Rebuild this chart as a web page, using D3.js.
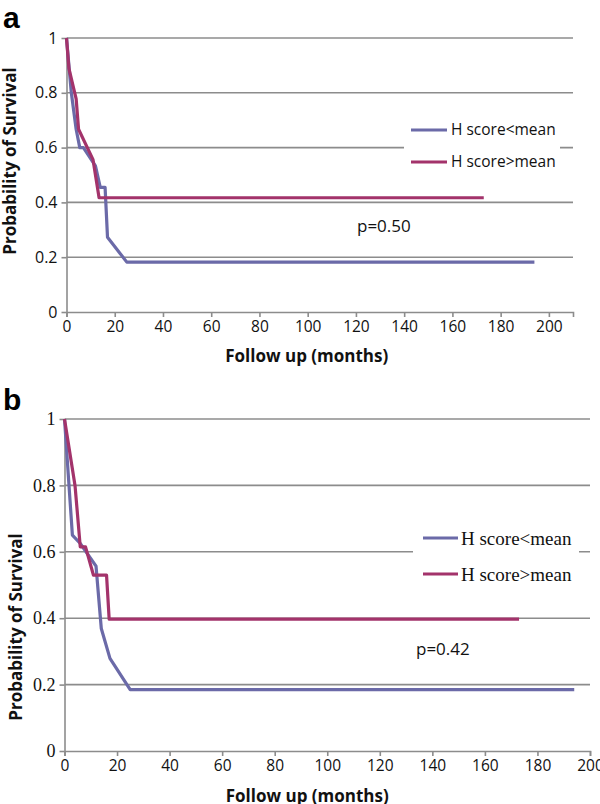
<!DOCTYPE html>
<html>
<head>
<meta charset="utf-8">
<script src="https://cdn.jsdelivr.net/npm/d3@7"></script>
<style>
  body { margin: 0; background: #fff; }
  svg { display: block; }
</style>
</head>
<body>
<script>
// survival curves (months, probability)
var monthsA_low = [0, 2, 4, 5.5, 7, 12, 14, 16, 17, 25, 194];
var survA_low = [1, 0.8, 0.667, 0.6, 0.6, 0.533, 0.455, 0.455, 0.273, 0.182, 0.182];
var monthsA_high = [0, 1, 4, 5, 11, 13.5, 173];
var survA_high = [1, 0.889, 0.778, 0.667, 0.556, 0.417, 0.417];

var monthsB_low = [0, 3, 6, 12, 14, 17.3, 25, 194];
var survB_low = [1, 0.65, 0.625, 0.557, 0.369, 0.279, 0.185, 0.185];
var monthsB_high = [0, 4, 6, 8, 11, 16, 17, 173];
var survB_high = [1, 0.8, 0.615, 0.615, 0.53, 0.53, 0.397, 0.397];

var seriesNames = ['H score<mean', 'H score>mean'];
var seriesColors = ['#6b6aa8', '#a3336b'];
var xTickValues = [0, 20, 40, 60, 80, 100, 120, 140, 160, 180, 200];
var yTickValues = [0, 0.2, 0.4, 0.6, 0.8, 1];
var pValues = ['p=0.50', 'p=0.42'];

var w = 600;
var h = 804;
var gridColor = '#8c8c8c';
var sans = '"Open Sans", sans-serif';
var serif = '"Liberation Serif", serif';

var svg = d3.select('body')
  .append('svg')
  .attr('width', w)
  .attr('height', h);

function zip(xs, ys) {
  return xs.map(function (x, i) { return [x, ys[i]]; });
}

function drawPanel(p) {
  var g = svg.append('g');
  var xScale = d3.scaleLinear().domain([0, p.xMax]).range([p.left, p.right]);
  var yScale = d3.scaleLinear().domain([0, 1]).range([p.bottom, p.top]);

  // gridlines
  g.selectAll('line.grid')
    .data(yTickValues.slice(1))
    .enter()
    .append('line')
    .attr('class', 'grid')
    .attr('x1', p.left)
    .attr('x2', p.right)
    .attr('y1', d => yScale(d))
    .attr('y2', d => yScale(d))
    .attr('stroke', gridColor)
    .attr('stroke-width', 1.6);

  var xAxis = d3.axisBottom(xScale)
    .tickValues(xTickValues)
    .tickSize(5)
    .tickSizeOuter(5)
    .tickPadding(4)
    .tickFormat(d3.format('d'));
  var yAxis = d3.axisLeft(yScale)
    .tickValues(yTickValues)
    .tickSize(5)
    .tickSizeOuter(0)
    .tickPadding(4)
    .tickFormat(d => d === 0 || d === 1 ? d3.format('d')(d) : d3.format('.1f')(d));

  var xa = g.append('g')
    .attr('transform', 'translate(0,' + p.bottom + ')')
    .call(xAxis);
  xa.selectAll('text')
    .attr('fill', '#111')
    .style('font-family', sans)
    .style('font-size', '15.5px');

  var ya = g.append('g')
    .attr('transform', 'translate(' + p.left + ',0)')
    .call(yAxis);
  ya.selectAll('text')
    .attr('fill', '#111')
    .style('font-family', p.yFont)
    .style('font-size', p.yFontSize);

  g.selectAll('.domain, .tick line')
    .attr('stroke', gridColor)
    .attr('stroke-width', 1.6);

  // legend box hides the gridline behind it
  g.append('rect')
    .attr('x', p.legend.x0)
    .attr('y', p.legend.y0)
    .attr('width', p.legend.x1 - p.legend.x0)
    .attr('height', p.legend.y1 - p.legend.y0)
    .attr('fill', '#fff');

  var line = d3.line()
    .x(d => xScale(d[0]))
    .y(d => yScale(d[1]));

  p.series.forEach(function (s, i) {
    g.append('path')
      .datum(s)
      .attr('d', line)
      .attr('fill', 'none')
      .attr('stroke', seriesColors[i])
      .attr('stroke-width', 3.2)
      .attr('stroke-linejoin', 'round');
  });

  seriesNames.forEach(function (name, i) {
    var ly = p.legend.rowY[i];
    g.append('line')
      .attr('x1', p.legend.lineX0)
      .attr('x2', p.legend.lineX1)
      .attr('y1', ly)
      .attr('y2', ly)
      .attr('stroke', seriesColors[i])
      .attr('stroke-width', 3.2);
    g.append('text')
      .attr('x', p.legend.textX)
      .attr('y', ly)
      .attr('dy', '0.35em')
      .attr('fill', '#111')
      .style('font-family', p.legend.font)
      .style('font-size', p.legend.fontSize)
      .text(name);
  });

  g.append('text')
    .attr('x', p.pX)
    .attr('y', p.pY)
    .attr('fill', '#111')
    .style('font-family', sans)
    .style('font-size', '17px')
    .text(p.pText);

  g.append('text')
    .attr('x', (p.left + p.right) / 2 + p.xTitleShift)
    .attr('y', p.xTitleY)
    .attr('text-anchor', 'middle')
    .attr('fill', '#111')
    .style('font-family', sans)
    .style('font-weight', 'bold')
    .style('font-size', '17px')
    .text('Follow up (months)');

  g.append('text')
    .attr('transform', 'translate(' + p.yTitleX + ',' + p.yTitleY + ') rotate(-90)')
    .attr('text-anchor', 'middle')
    .attr('fill', '#111')
    .style('font-family', sans)
    .style('font-weight', 'bold')
    .style('font-size', '17px')
    .text('Probability of Survival');

  g.append('text')
    .attr('x', 3)
    .attr('y', p.letterY)
    .attr('fill', '#000')
    .style('font-family', '"Liberation Sans", Arial, sans-serif')
    .style('font-weight', 'bold')
    .style('font-size', '30px')
    .text(p.letter);
}

drawPanel({
  letter: 'a', letterY: 28,
  left: 66.5, right: 573, top: 38, bottom: 312, xMax: 210,
  series: [zip(monthsA_low, survA_low), zip(monthsA_high, survA_high)],
  yFont: sans, yFontSize: '16px',
  legend: { x0: 404, x1: 560, y0: 116, y1: 178, rowY: [130, 162],
            lineX0: 411, lineX1: 447, textX: 451, font: sans, fontSize: '15.5px' },
  pText: pValues[0], pX: 357, pY: 232,
  xTitleY: 362, xTitleShift: -13,
  yTitleX: 16, yTitleY: 161
});

drawPanel({
  letter: 'b', letterY: 410,
  left: 64.5, right: 590, top: 419, bottom: 751, xMax: 200,
  series: [zip(monthsB_low, survB_low), zip(monthsB_high, survB_high)],
  yFont: serif, yFontSize: '18px',
  legend: { x0: 413, x1: 579, y0: 520, y1: 595, rowY: [538, 574],
            lineX0: 423, lineX1: 458, textX: 461, font: serif, fontSize: '19px' },
  pText: pValues[1], pX: 416, pY: 655,
  xTitleY: 802, xTitleShift: -20,
  yTitleX: 22, yTitleY: 627
});
</script>
</body>
</html>
